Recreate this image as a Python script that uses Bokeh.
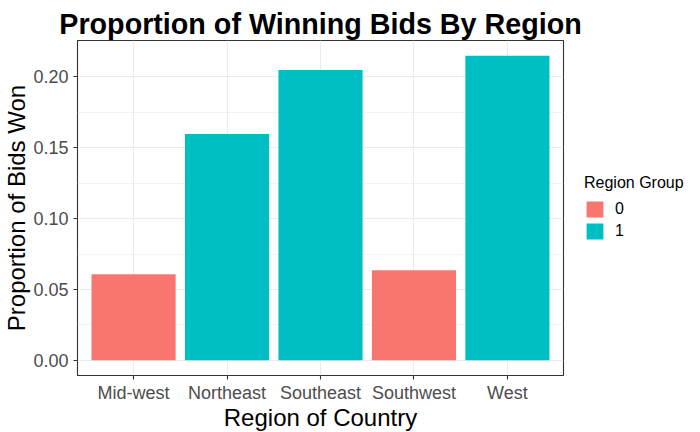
from bokeh.plotting import figure
from bokeh.models import (ColumnDataSource, FactorRange, FixedTicker, NumeralTickFormatter,
                          Range1d, Legend, LegendItem)
from bokeh.embed import file_html
from bokeh.resources import INLINE

# ---- data ----
regions = ["Mid-west", "Northeast", "Southeast", "Southwest", "West"]
proportions = [0.0607, 0.1598, 0.2050, 0.0636, 0.2150]
groups = ["0", "1", "1", "0", "1"]
group_levels = ["0", "1"]
group_colors = ["#F8766D", "#00BFC4"]
y_ticks = [0.0, 0.05, 0.10, 0.15, 0.20]
y_minor = [0.025, 0.075, 0.125, 0.175]

FONT = "Liberation Sans"

p = figure(frame_width=486, frame_height=335, output_backend="svg", toolbar_location=None,
           x_range=FactorRange(factors=regions, range_padding=0.1, range_padding_units="absolute"),
           y_range=Range1d(-0.01075, 0.22575),
           min_border_left=76, min_border_right=138, min_border_top=40, min_border_bottom=57,
           title="Proportion of Winning Bids By Region")

items = []
for lvl, col in zip(group_levels, group_colors):
    idx = [i for i, g in enumerate(groups) if g == lvl]
    src = ColumnDataSource(dict(x=[regions[i] for i in idx], top=[proportions[i] for i in idx]))
    r = p.vbar(x="x", top="top", bottom=0, width=0.9, source=src, fill_color=col,
               line_color=None)
    items.append(LegendItem(label=lvl, renderers=[r]))

# title
p.title.align = "center"
p.title.text_font = FONT
p.title.text_font_size = "28.7px"
p.title.text_font_style = "bold"
p.title.text_color = "black"
p.title.standoff = 1
p.title.offset = 4

# panel styling
p.background_fill_color = "white"
p.border_fill_color = "white"
p.outline_line_color = "#333333"
p.outline_line_width = 1.1

p.xgrid.grid_line_color = "#EBEBEB"
p.xgrid.grid_line_width = 1.1
p.ygrid.grid_line_color = "#EBEBEB"
p.ygrid.grid_line_width = 1.1
p.ygrid.minor_grid_line_color = "#EBEBEB"
p.ygrid.minor_grid_line_width = 0.6

p.yaxis.ticker = FixedTicker(ticks=y_ticks, minor_ticks=y_minor)
p.yaxis.formatter = NumeralTickFormatter(format="0.00")

for ax in (p.xaxis[0], p.yaxis[0]):
    ax.axis_line_color = None
    ax.major_tick_line_color = "#333333"
    ax.major_tick_line_width = 1.1
    ax.major_tick_out = 4
    ax.major_tick_in = 0
    ax.minor_tick_line_color = None
    ax.major_label_text_font = FONT
    ax.major_label_text_font_size = "18px"
    ax.major_label_text_color = "#4D4D4D"
    ax.axis_label_text_font = FONT
    ax.axis_label_text_font_size = "24px"
    ax.axis_label_text_font_style = "normal"
    ax.axis_label_text_color = "black"

p.xaxis.axis_label = "Region of Country"
p.xaxis.major_label_standoff = 3
p.xaxis.axis_label_standoff = -2
p.yaxis.axis_label = "Proportion of Bids Won"
p.yaxis.major_label_standoff = 5
p.yaxis.axis_label_standoff = 0

lg = Legend(items=items, location=(21, 134))
lg.title = "Region Group"
lg.title_text_font = FONT
lg.title_text_font_size = "16px"
lg.title_text_font_style = "normal"
lg.title_text_color = "black"
lg.title_standoff = 7
lg.label_text_font = FONT
lg.label_text_font_size = "16px"
lg.label_text_color = "black"
lg.glyph_width = 21
lg.glyph_height = 20
lg.label_height = 20
lg.spacing = 2
lg.label_standoff = 10
lg.padding = 0
lg.margin = 0
lg.border_line_color = None
lg.background_fill_alpha = 0
p.add_layout(lg, "right")

open("out.html", "w").write(file_html(p, INLINE))
